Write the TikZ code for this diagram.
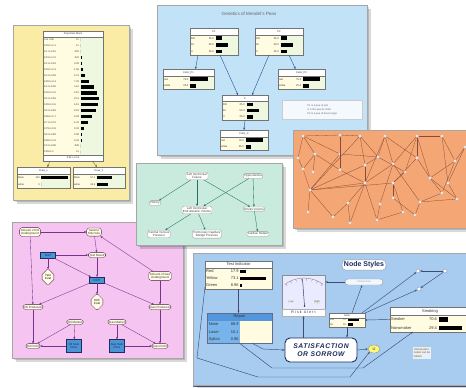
\documentclass[tikz,border=0pt]{standalone}
\usepackage{fontspec}
\setmainfont{Liberation Sans}
\usetikzlibrary{arrows.meta,shapes.geometric,shapes.misc}

\definecolor{paperyellow}{RGB}{250,236,164}
\definecolor{genblue}{RGB}{194,227,247}
\definecolor{netorange}{RGB}{244,166,116}
\definecolor{mint}{RGB}{200,235,222}
\definecolor{pinkpanel}{RGB}{246,196,240}
\definecolor{styleblue}{RGB}{168,204,240}
\definecolor{cream}{RGB}{255,252,226}
\definecolor{barzone}{RGB}{238,248,224}
\definecolor{decblue}{RGB}{74,148,214}
\definecolor{navy}{RGB}{28,44,92}
\definecolor{tealarrow}{RGB}{40,110,100}
\definecolor{plum}{RGB}{120,50,140}
\definecolor{linkblue}{RGB}{30,80,150}
\definecolor{edgebrown}{RGB}{135,75,55}
\definecolor{repairhead}{RGB}{84,150,220}
\definecolor{repairleft}{RGB}{120,180,236}
\colorlet{bbzone}{barzone}

\tikzset{
  bbframe/.style={draw=black!55,line width=0.3pt,fill=cream,inner sep=0pt,outer sep=0pt},
  bbline/.style={draw=black!55,line width=0.3pt},
  bbfont/.style={font=\fontsize{\bbsize}{\bbsize}\selectfont,inner sep=0.15pt,text=black!80},
  tip/.style={-{Stealth[length=2.4pt,width=2pt]}},
  yarr/.style={tip,draw=olive!80!black,line width=0.35pt},
  garr/.style={tip,draw=linkblue,line width=0.4pt},
  tarr/.style={tip,draw=tealarrow,line width=0.35pt},
  parr/.style={tip,draw=plum,line width=0.35pt},
  narr/.style={tip,draw=navy!85,line width=0.45pt},
  gedge/.style={draw=edgebrown,line width=0.3pt},
  gdot/.style={circle,fill=white,draw=black!40,line width=0.2pt,minimum size=3.2pt,inner sep=0pt},
  gnode/.style={draw=black!40,fill=white,rounded corners=2pt,align=center,
    font=\fontsize{3}{3.4}\selectfont,inner sep=1pt,text=black!75,line width=0.3pt},
  pnode/.style={draw=plum!60!black,fill=cream,rounded corners=2.5pt,align=center,
    font=\fontsize{3}{3.4}\selectfont,inner sep=1.3pt,text=black!80,line width=0.3pt},
  pdec/.style={draw=navy,fill=decblue,align=center,font=\fontsize{3}{3.4}\selectfont,
    inner sep=1.3pt,minimum width=15pt,minimum height=6pt,text=navy,line width=0.3pt},
  putil/.style={chamfered rectangle,chamfered rectangle xsep=1.5pt,draw=plum!60!black,
    fill=cream,align=center,font=\fontsize{3}{3.4}\selectfont,inner sep=1.3pt,line width=0.3pt},
  sdot/.style={circle,fill=white,draw=navy!60,minimum size=4pt,inner sep=0pt,line width=0.3pt},
}

% coloured panel with a soft drop shadow
\newcommand{\drawpanel}[5]{%
  \foreach \s in {1.2,2.4,3.6}{\fill[black,opacity=0.15] ({#1+\s},{#2+\s}) rectangle ({#3+\s},{#4+\s});}
  \fill[#5] (#1,#2) rectangle (#3,#4);
  \draw[black!35,line width=0.4pt] (#1,#2) rectangle (#3,#4);
}

% belief-bar box: name, left, top, width, row height, rows, title, label/value/bar list
\def\bbsize{2.6}\def\bbsplit{0.52}
\newcommand{\beliefbox}[8]{%
  \node[bbframe,anchor=north west,minimum width=#4,minimum height={#5*(#6+1)}] (#1) at (#2,#3) {};
  \fill[bbzone] ({#2+#4*\bbsplit},{#3+#5}) rectangle ({#2+#4},{#3+#5*(#6+1)});
  \fill[white] (#2,#3) rectangle ({#2+#4},{#3+#5});
  \draw[bbline] (#2,{#3+#5}) -- ({#2+#4},{#3+#5});
  \node[bbfont] at ({#2+#4/2},{#3+#5/2}) {#7};
  \foreach \bblab/\bbval/\bblen [count=\i] in {#8}{%
    \node[bbfont,anchor=west] at ({#2+0.8},{#3+#5*(\i+0.5)}) {\bblab};
    \node[bbfont,anchor=east] at ({#2+#4*\bbsplit-0.8},{#3+#5*(\i+0.5)}) {\bbval};
    \fill[black] ({#2+#4*\bbsplit+0.6},{#3+#5*(\i+0.5)-#5*0.27}) rectangle
      ({#2+#4*\bbsplit+0.6+#4*(1-\bbsplit)*0.92*\bblen},{#3+#5*(\i+0.5)+#5*0.27});
  }
  \draw[bbline] (#1.north west) rectangle (#1.south east);
}

\begin{document}
\begin{tikzpicture}[x=1pt,y=-1pt]
\useasboundingbox (0,0) rectangle (466,388);
\fill[white] (0,0) rectangle (466,388);

%% ---------- Genetics of Mendel's Peas ----------
\drawpanel{157}{5}{367}{155}{genblue}
\node[font=\fontsize{4.6}{5}\selectfont,text=black!60] (gtitle) at (249,14) {Genetics of Mendel's Peas};
\def\bbsize{2.6}\def\bbsplit{0.52}
\beliefbox{p1}{190}{28}{48}{6.75}{3}{P1}{RR/25.0/0.3, Rr/50.0/0.6, rr/25.0/0.3}
\beliefbox{p2}{255}{28}{48}{6.75}{3}{P2}{RR/25.0/0.3, Rr/50.0/0.6, rr/25.0/0.3}
\beliefbox{cp1}{163}{69}{51}{6.75}{2}{Color\_P1}{red/75.0/0.8, white/25.0/0.27}
\beliefbox{cp2}{278}{69}{47}{6.75}{2}{Color\_P2}{red/75.0/0.8, white/25.0/0.27}
\beliefbox{cc}{222}{95}{46}{6.25}{3}{C}{RR/25.0/0.3, Rr/50.0/0.6, rr/25.0/0.3}
\beliefbox{ccol}{220}{130}{48}{6.75}{2}{Color\_C}{red/75.0/0.8, white/25.0/0.27}
\node[draw=black!20,fill=white!80!genblue,anchor=north west,minimum width=80,minimum height=19,
  align=left,font=\fontsize{2.6}{3.8}\selectfont,text=black!60,inner sep=1.5pt] (gnote) at (282,100)
  {P1 is a pea to test\\C is the pea its child\\P2 is a pea of known type};
\draw[garr] ([xshift=8pt]p1.south west) -- ([xshift=7pt]cp1.north);
\draw[garr] ([xshift=30pt]p1.south west) -- ([xshift=-7pt]cc.north);
\draw[garr] ([xshift=14pt]p2.south west) -- ([xshift=7pt]cc.north);
\draw[garr] ([xshift=-14pt]p2.south east) -- ([xshift=-6pt]cp2.north);
\draw[garr] (cc.south) -- (ccol.north);

%% ---------- Proportion Black ----------
\drawpanel{13}{25}{129}{200}{paperyellow}
\def\bbsize{2.5}\def\bbsplit{0.62}
\beliefbox{pb}{43}{31}{60}{5.9}{20}{Proportion Black}{0 to 0.05/0+/0, 0.05 to 0.1/0+/0,
  0.1 to 0.15/.002/0, 0.15 to 0.2/.031/0.002, 0.2 to 0.25/0.29/0.02, 0.25 to 0.3/1.56/0.09,
  0.3 to 0.35/3.21/0.18, 0.35 to 0.4/7.22/0.4, 0.4 to 0.45/11.0/0.61, 0.45 to 0.5/13.5/0.75,
  0.5 to 0.55/15.3/0.85, 0.55 to 0.6/14.5/0.8, 0.6 to 0.65/12.8/0.71, 0.65 to 0.7/9.94/0.55,
  0.7 to 0.75/6.41/0.36, 0.75 to 0.8/3.02/0.17, 0.8 to 0.85/0.98/0.05, 0.85 to 0.9/0.16/0.01,
  0.9 to 0.95/.006/0, 0.95 to 1/0+/0}
\node[bbframe,fill=white,anchor=north west,minimum width=60,minimum height=6] (pbsum) at (43,154.9) {};
\node[bbfont] (pbsumtext) at (pbsum) {0.52 ± 0.14};
\def\bbsplit{0.45}
\beliefbox{draw1}{17}{167}{53}{7}{2}{Draw\_1}{black/100/1, white/0/0}
\beliefbox{draw2}{73}{167}{52}{7}{2}{Draw\_2}{black/57.1/0.57, white/42.9/0.43}
\draw[yarr] ([xshift=7pt]pbsum.south west) -- ([xshift=4pt]draw1.north);
\draw[yarr] ([xshift=-11pt]pbsum.south east) -- ([xshift=-2pt]draw2.north);

%% ---------- random network ----------
\drawpanel{293}{130}{472}{228}{netorange}
\foreach \i/\x/\y in {1/303/136,2/340/135,3/360/136,4/385/136,5/417/136,6/442/136,7/465/147,
  8/298/158,9/315/154,10/340/154,11/378/157,12/417/158,13/455/161,14/303/169,15/313/172,
  16/340/170,17/365/165,18/393/164,19/405/172,20/430/178,21/448/183,22/310/190,23/365/183,
  24/393/183,25/442/193,26/457/199,27/348/203,28/380/204,29/393/198,30/420/202,31/308/212,
  32/333/217,33/377/220,34/403/212,35/415/215,36/350/223}
  {\node[gdot] (g\i) at (\x,\y) {};}
\foreach \a/\b in {1/2,1/9,1/8,1/10,2/10,2/3,3/11,3/17,4/18,4/11,5/12,5/6,5/18,5/19,5/20,
  6/13,6/21,7/13,7/21,8/14,9/15,9/14,10/16,10/22,10/11,11/19,12/20,12/24,13/25,13/20,14/22,
  16/23,17/23,17/22,18/28,19/24,20/26,21/26,22/23,22/31,22/32,22/24,23/27,23/36,23/33,24/34,
  24/29,25/30,26/30,27/32,28/33,29/35,30/35,33/34,36/27,17/11,16/9,2/16,4/12,20/25,18/30,
  23/18,3/22,4/23}
  {\draw[gedge] (g\a) -- (g\b);}

%% ---------- oil wildcatter decision network ----------
\drawpanel{12}{222}{183}{358}{pinkpanel}
\node[pnode] (aou) at (30,232) {Amount of Oil\\Underground};
\node[pnode] (ss) at (94,232) {Seismic\\Structure};
\node[pdec] (test) at (48,255) {Test?};
\node[pnode] (tr) at (97,255) {Test Result};
\node[putil] (tc) at (48,277) {Test\\Cost};
\node[pdec] (drill) at (97,280) {Drill?};
\node[putil] (dc) at (97,302) {Drill\\Cost};
\node[pnode] (agu) at (160,276) {Amount of Gas\\Underground};
\node[pnode] (op) at (33,307) {Oil Produced};
\node[pnode] (gp) at (160,307) {Gas Produced};
\node[pnode] (om) at (75,322) {Oil Market};
\node[pnode] (gm) at (117,322) {Gas Market};
\node[pnode] (oprof) at (33,346) {Oil Profit};
\node[pdec,minimum height=13pt] (osp) at (74,346) {Oil Sale\\Price};
\node[pdec,minimum height=13pt] (gsp) at (117,346) {Gas Sale\\Price};
\node[pnode] (gprof) at (160,346) {Gas Profit};
\foreach \a/\b in {aou/ss,aou/op,op/oprof,ss/tr,test/tr,test/tc,test/drill,tr/drill,agu/ss,
  agu/gp,drill/op,drill/dc,drill/gp,om/oprof,om/osp,osp/oprof,gm/gsp,gm/gprof,gsp/gprof,gp/gprof}
  {\draw[parr] (\a) -- (\b);}

%% ---------- heart failure fragment ----------
\drawpanel{136}{163}{282}{245}{mint}
\node[gnode] (lvf) at (197,176) {Left Ventricular\\Failure};
\node[gnode] (hypo) at (253,176) {Hypovolemia};
\node[gnode] (hist) at (155,203) {History};
\node[gnode] (lvedv) at (197,210) {Left Ventricular\\End-diastolic Volume};
\node[gnode] (sv) at (254,209) {Stroke Volume};
\node[gnode] (cvp) at (159,234) {Central Venous\\Pressure};
\node[gnode] (pcwp) at (207,234) {Pulmonary Capillary\\Wedge Pressure};
\node[gnode] (co) at (258,234) {Cardiac Output};
\foreach \a/\b in {lvf/hist,lvf/lvedv,lvf/sv,hypo/lvedv,hypo/sv,lvedv/cvp,lvedv/pcwp,sv/co}
  {\draw[tarr] (\a) -- (\b);}

%% ---------- Node Styles ----------
\fill[navy!70] (193,253) rectangle (472,387);
\drawpanel{193}{253}{472}{385}{styleblue}
\node[draw=black!40,fill=white,rounded corners=3.5pt,inner sep=1.8pt,
  font=\fontsize{7}{7}\selectfont\bfseries,text=navy] (nstitle) at (364,265) {Node Styles};
\colorlet{bbzone}{cream}
\def\bbsize{4}\def\bbsplit{0.52}
\beliefbox{ti}{205}{261}{67}{7}{3}{Test Indicator}{Red/17.9/0.2, Yellow/73.1/0.85, Green/8.96/0.06}
% Repair table with coloured header
\node[draw=navy!70,line width=0.4pt,fill=cream,anchor=north west,minimum width=65,minimum height=30,inner sep=0]
  (rep) at (207,313) {};
\fill[repairhead] (207,313) rectangle (272,320.5);
\fill[repairleft] (207,320.5) rectangle (240,343);
\draw[navy!70,line width=0.4pt] (rep.north west) rectangle (rep.south east);
\node[bbfont] (reptitle) at (239.5,316.8) {Repair};
\foreach \lab/\val [count=\i] in {None/88.9,Laser/10.1,Splice/0.96}{
  \node[bbfont,anchor=west] (replab\i) at (208.5,{320.5+7.5*(\i-0.5)}) {\lab};
  \node[bbfont,anchor=east] (repval\i) at (239,{320.5+7.5*(\i-0.5)}) {\val};
}
% gauge
\node[draw=black!45,fill=white!92!blue,minimum width=43,minimum height=34,anchor=north west,inner sep=0]
  (gauge) at (282,275) {};
\draw[black!50,line width=0.35pt] (284.74,284.44) arc[start angle=-127,end angle=-53,radius=32];
\foreach \a in {-125,-115,...,-55}
  \draw[black!50,line width=0.3pt] ([shift={(304,310)}]\a:32) -- ([shift={(304,310)}]\a:29.5);
\node[font=\fontsize{2.6}{3}\selectfont,text=black!60,fill=black!10,inner sep=0.4pt] (glow) at (291,302) {Low};
\node[font=\fontsize{2.6}{3}\selectfont,text=black!60,fill=black!10,inner sep=0.4pt] (ghigh) at (317,302) {High};
\draw[navy!90,line width=0.5pt] (304.5,306) -- (302.5,279);
\fill[navy] (304.5,306) circle (0.9);
\node[draw=black!30,fill=white,minimum width=43,minimum height=7,inner sep=0,
  font=\fontsize{3.6}{4}\selectfont\addfontfeatures{LetterSpace=30},text=navy] (risk) at (303.5,312.5) {Risk Alert};
% other nodes
\node[draw=black!40,fill=white!85!styleblue,rounded corners=3pt,minimum width=38,minimum height=6,inner sep=0,
  font=\fontsize{2.6}{3}\selectfont,text=black!35] (rbox) at (364,282) {Unimportant};
\def\bbsize{2.4}\def\bbsplit{0.5}
\beliefbox{mini}{329}{313}{36}{4.7}{2}{Node}{Yes/70/0.7, No/30/0.3}
\def\bbsize{4}\def\bbsplit{0.6}
\beliefbox{smk}{390}{307}{80}{8.3}{2}{Smoking}{Smoker/70.6/0.33, Nonsmoker/29.4/0.8}
\node[draw=navy,line width=0.9pt,fill=white,rounded corners=5pt,minimum width=72,minimum height=24,
  align=center,font=\fontsize{6.8}{8.2}\selectfont\bfseries\itshape\addfontfeatures{LetterSpace=8},text=navy]
  (sat) at (321,350) {SATISFACTION\\OR SORROW};
\node[ellipse,fill=yellow!55,draw=navy!60,line width=0.3pt,minimum width=12,minimum height=8,inner sep=0,
  font=\fontsize{4}{4}\selectfont,text=navy] (util) at (374,349) {U};
\node[fill=white!70!styleblue,align=left,inner sep=1pt,font=\fontsize{2.7}{3.6}\selectfont,text=orange!60!black]
  (nsnote) at (422,353) {Unimportant\\nodes can be\\hidden};
\node[sdot] (sdot1) at (418,271) {};
\node[sdot] (sdot2) at (445,271) {};
\node[sdot] (sdot3) at (419,289) {};
% connectors
\draw[narr] (ti.south) -- (ti.south |- rep.north);
\draw[narr] (rbox.west) -- (rbox.west -| gauge.east);
\draw[narr] ([xshift=5pt]mini.north) -- ([xshift=-2pt]rbox.south);
\draw[narr] (sat.north -| risk.south) -- (risk.south);
\draw[narr] (mini.south) -- (mini.south |- sat.north);
\draw[narr] (smk.west) -- (mini.east);
\draw[narr] ([xshift=-3pt]mini.north east) -- (sdot1);
\draw[narr] (mini.north east) -- (sdot3);
\draw[narr] (sdot2) -- (sdot1);
\draw[narr] (sdot2) -- (sdot3);
\draw[narr] ([xshift=-20pt]rep.south east) -- (263,349) -- (sat.west);
\draw[narr] (sat.east) -- (util.west);
\draw[narr] ([yshift=2pt]ti.south west) -- (197,358) -- (258,377) -- (350,377) -- (util.south west);
\draw[narr] (rep.south) -- (272,368) -- (363,368) -- ([xshift=23pt]smk.south west);
\end{tikzpicture}
\end{document}
